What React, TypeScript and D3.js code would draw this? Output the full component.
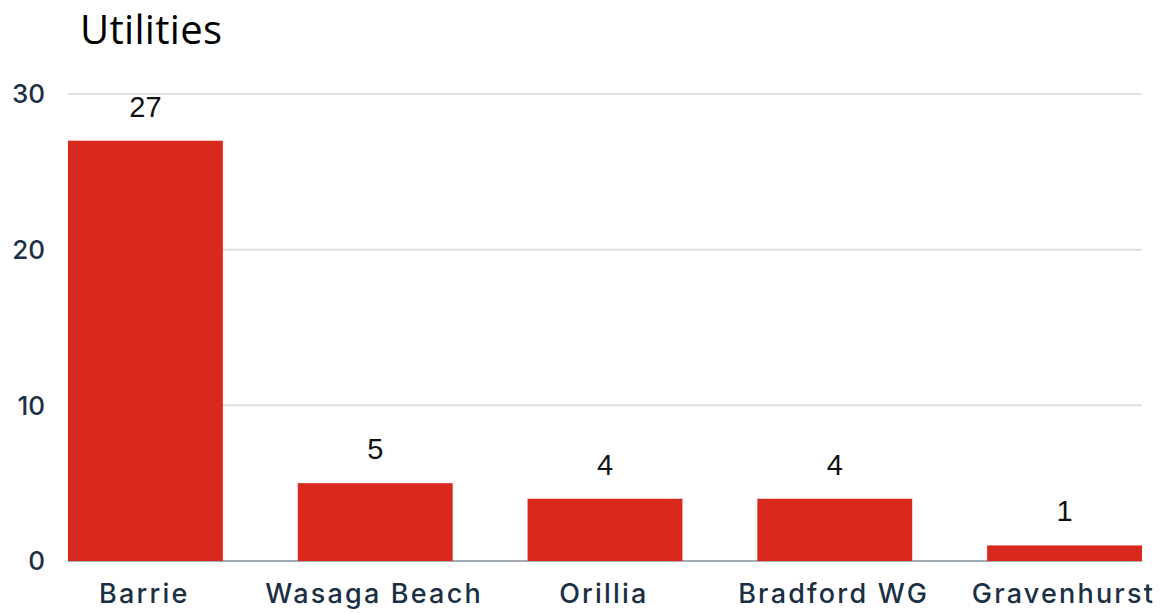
import React, { useRef, useEffect } from "react";
import * as d3 from "d3";

const categories = ["Barrie", "Wasaga Beach", "Orillia", "Bradford WG", "Gravenhurst"];
const values = [27, 5, 4, 4, 1];
const yTicks = [0, 10, 20, 30];

const W = 1160;
const H = 613;

const App: React.FC = () => {
  const ref = useRef<SVGSVGElement | null>(null);

  useEffect(() => {
    if (!ref.current) return;
    const svg = d3.select(ref.current);
    svg.selectAll("*").remove();

    const margin = { top: 94, right: 18, bottom: 52, left: 68 };
    const x = d3
      .scaleBand()
      .domain(categories)
      .range([margin.left, W - margin.right])
      .paddingInner(0.326)
      .paddingOuter(0);
    const y = d3
      .scaleLinear()
      .domain([0, 30])
      .range([H - margin.bottom, margin.top]);

    // Title
    svg
      .append("text")
      .attr("x", 80)
      .attr("y", 44)
      .attr("font-family", "'Open Sans', sans-serif")
      .attr("font-size", 40)
      .attr("letter-spacing", 0.3)
      .attr("fill", "#000")
      .text("Utilities");

    // Gridlines
    svg
      .append("g")
      .selectAll("line")
      .data(yTicks)
      .join("line")
      .attr("x1", margin.left)
      .attr("x2", W - margin.right)
      .attr("y1", (d) => y(d))
      .attr("y2", (d) => y(d))
      .attr("stroke", (d) => (d === 0 ? "#a3acb6" : "#dde0e5"))
      .attr("stroke-width", 2);

    // Y tick labels
    svg
      .append("g")
      .selectAll("text")
      .data(yTicks)
      .join("text")
      .attr("x", 45)
      .attr("y", (d) => y(d))
      .attr("dy", "0.36em")
      .attr("text-anchor", "end")
      .attr("font-family", "Inter, sans-serif")
      .attr("font-weight", 500)
      .attr("font-size", 26)
      .attr("fill", "#1b2f45")
      .text((d) => String(d));

    // Bars
    const data = categories.map((c, i) => ({ category: c, value: values[i] }));
    svg
      .append("g")
      .selectAll("rect")
      .data(data)
      .join("rect")
      .attr("x", (d) => x(d.category)!)
      .attr("y", (d) => y(d.value))
      .attr("width", x.bandwidth())
      .attr("height", (d) => y(0) - y(d.value))
      .attr("fill", "#d9291e");

    // Value labels
    svg
      .append("g")
      .selectAll("text")
      .data(data)
      .join("text")
      .attr("x", (d) => x(d.category)! + x.bandwidth() / 2)
      .attr("y", (d) => y(d.value) - 24)
      .attr("text-anchor", "middle")
      .attr("font-family", "'Liberation Sans', Arial, sans-serif")
      .attr("font-size", 29)
      .attr("fill", "#111")
      .text((d) => String(d.value));

    // X labels
    const ls = 2.2;
    svg
      .append("g")
      .selectAll("text")
      .data(data)
      .join("text")
      .attr("x", (d) => x(d.category)! + x.bandwidth() / 2 - ls / 2)
      .attr("y", 603)
      .attr("text-anchor", "middle")
      .attr("font-family", "Inter, sans-serif")
      .attr("font-weight", 500)
      .attr("font-size", 27)
      .attr("letter-spacing", ls)
      .attr("fill", "#1b2f45")
      .text((d) => d.category);
  }, []);

  return (
    <div style={{ position: "absolute", left: 0, top: 0 }}>
      <svg ref={ref} width={W} height={H} />
    </div>
  );
};

export default App;
